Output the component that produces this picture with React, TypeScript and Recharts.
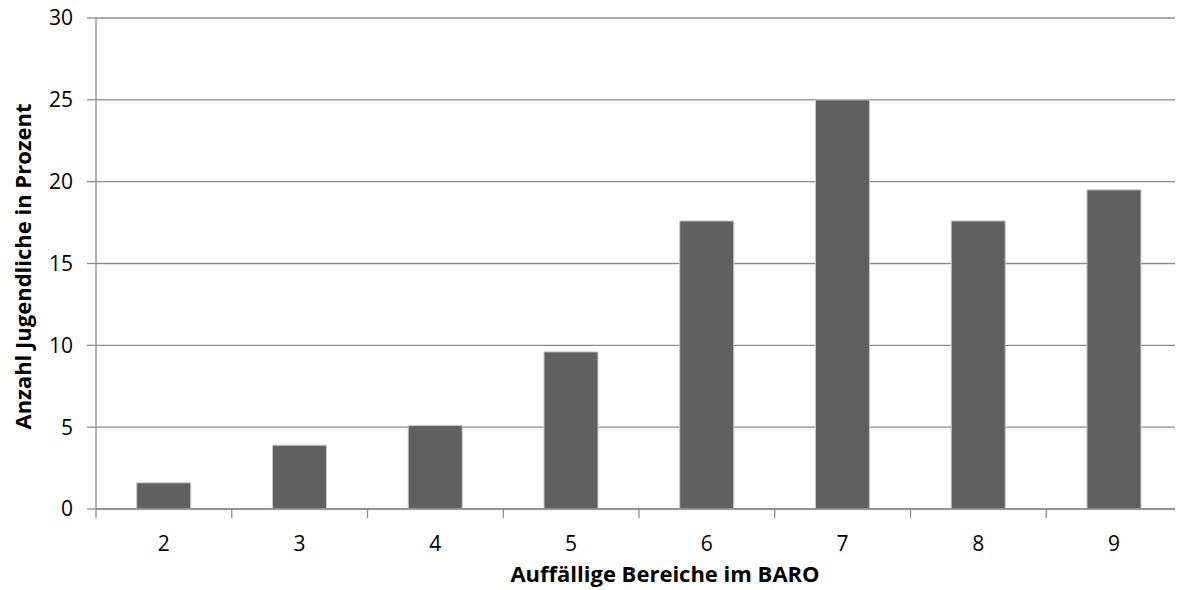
import React from 'react';
import { BarChart, Bar, XAxis, YAxis, CartesianGrid, Label } from 'recharts';

const categories = ['2', '3', '4', '5', '6', '7', '8', '9'];
const percentValues = [1.6, 3.9, 5.1, 9.6, 17.6, 25.0, 17.6, 19.5];
const yTicks = [0, 5, 10, 15, 20, 25, 30];

const data = categories.map((c, i) => ({ name: c, value: percentValues[i] }));

const W = 1183;
const H = 590;
const margin = { top: 18, right: 1, left: 0, bottom: 0 };
const Y_WIDTH = 96;
const X_HEIGHT = 81;
const TICK_SIZE = 9;
const X_TICK_MARGIN = 18;
const FONT = '"Open Sans", sans-serif';
const GRID = '#8c8c8c';

const XTick = (props: any) => {
  const { x, y, payload, index } = props;
  const band = (W - margin.right - Y_WIDTH) / categories.length;
  const lineTop = y - X_TICK_MARGIN - TICK_SIZE;
  return (
    <g>
      <line x1={x - band / 2} x2={x - band / 2} y1={lineTop} y2={lineTop + TICK_SIZE} stroke={GRID} strokeWidth={1.3} />
      {index === categories.length - 1 && (
        <line x1={x + band / 2} x2={x + band / 2} y1={lineTop} y2={lineTop + TICK_SIZE} stroke={GRID} strokeWidth={1.3} />
      )}
      <text x={x} y={y} dy="0.71em" textAnchor="middle" fill="#000" fontSize={21} fontFamily={FONT}>
        {payload.value}
      </text>
    </g>
  );
};

const App = () => {
  return (
    <div style={{ marginTop: -8, marginLeft: -8, background: '#fff' }}>
      <BarChart width={W} height={H} data={data} margin={margin} barCategoryGap="30%">
        <CartesianGrid vertical={false} stroke={GRID} strokeWidth={1.3} />
        <XAxis
          dataKey="name"
          height={X_HEIGHT}
          axisLine={{ stroke: GRID, strokeWidth: 1.3 }}
          tickLine={false}
          tickSize={TICK_SIZE}
          tickMargin={X_TICK_MARGIN}
          tick={<XTick />}
          interval={0}
        >
          <Label
            value="Auffällige Bereiche im BARO"
            position="insideBottom"
            offset={8}
            dx={26}
            style={{ fontFamily: FONT, fontSize: 22, fontWeight: 700, fill: '#000' }}
          />
        </XAxis>
        <YAxis
          width={Y_WIDTH}
          domain={[0, 30]}
          ticks={yTicks}
          interval={0}
          axisLine={{ stroke: GRID, strokeWidth: 1.3 }}
          tickLine={{ stroke: GRID, strokeWidth: 1.3 }}
          tickSize={TICK_SIZE}
          tickMargin={14}
          tick={{ fill: '#000', fontSize: 21, fontFamily: FONT }}
        >
          <Label
            value="Anzahl Jugendliche in Prozent"
            angle={-90}
            position="insideLeft"
            offset={23}
            dy={3}
            style={{ textAnchor: 'middle', fontFamily: FONT, fontSize: 22, fontWeight: 700, fill: '#000' }}
          />
        </YAxis>
        <Bar dataKey="value" fill="#606060" stroke="#c8c8c8" strokeWidth={1} isAnimationActive={false} />
      </BarChart>
    </div>
  );
};

export default App;
